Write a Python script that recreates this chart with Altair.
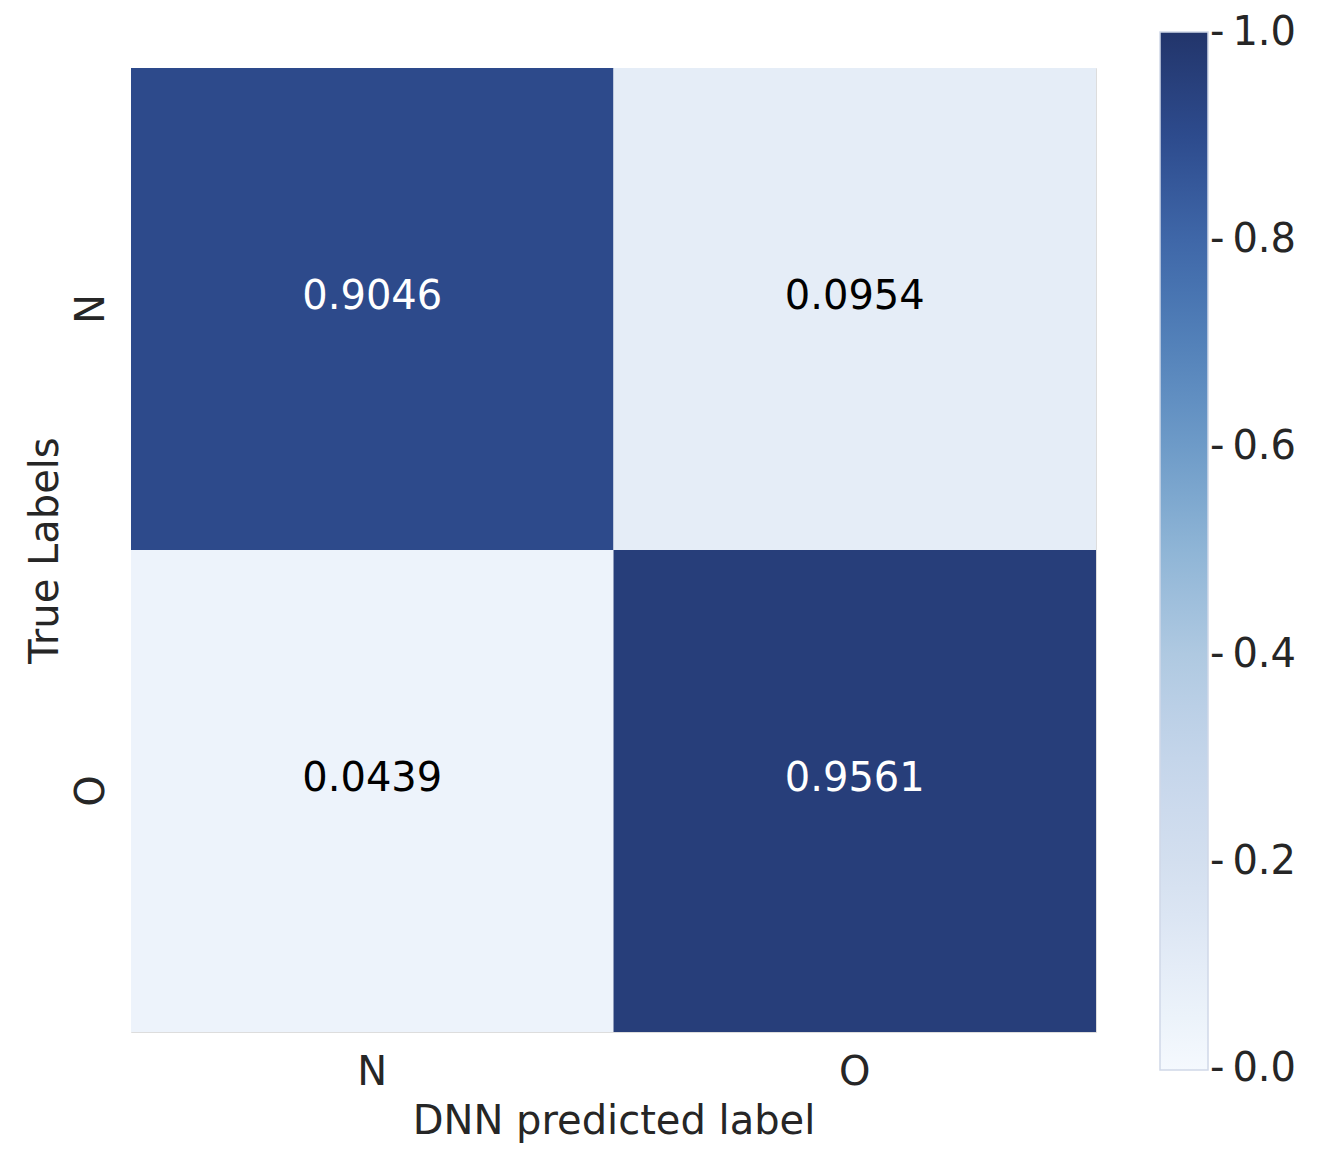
import altair as alt
import pandas as pd

true_labels = ["N", "N", "O", "O"]
pred_labels = ["N", "O", "N", "O"]
values = [0.9046, 0.0954, 0.0439, 0.9561]
order = ["N", "O"]

stops = [0.0, 0.1, 0.2, 0.3, 0.4, 0.5, 0.6, 0.7, 0.8, 0.9, 1.0]
colors = ["#f5f9fe", "#e4ecf7", "#d3dfef", "#c4d5ea", "#afc9e1", "#8fb5d6",
          "#6e9bc8", "#5381b9", "#3f67a8", "#2d4b8d", "#22356b"]
# end ticks nudged just inside the domain so their labels stay centred on the ends
legend_ticks = [0.0005, 0.2, 0.4, 0.6, 0.8, 0.9995]

df = pd.DataFrame({"true": true_labels, "pred": pred_labels, "value": values})
df["label"] = df["value"].map(lambda v: f"{v:.4f}")

FONT = "DejaVu Sans"
TXT = "#262626"

base = alt.Chart(df)

rect = base.mark_rect(stroke=None).encode(
    x=alt.X("pred:N", sort=order, title="DNN predicted label",
            axis=alt.Axis(labelAngle=0, ticks=False, domain=False, grid=False,
                          labelFontSize=40, titleFontSize=40, labelPadding=20,
                          titlePadding=9, labelColor=TXT, titleColor=TXT,
                          labelFont=FONT, titleFont=FONT, titleFontWeight="normal")),
    y=alt.Y("true:N", sort=order, title="True Labels",
            axis=alt.Axis(labelAngle=-90, ticks=False, domain=False, grid=False,
                          labelFontSize=40, titleFontSize=40, labelPadding=20,
                          titlePadding=6, labelColor=TXT, titleColor=TXT,
                          labelFont=FONT, titleFont=FONT, titleFontWeight="normal")),
    color=alt.Color("value:Q",
                    scale=alt.Scale(domain=stops, range=colors),
                    legend=alt.Legend(title=None, orient="none", legendX=1029, legendY=-36,
                                      direction="vertical", gradientLength=1038,
                                      gradientThickness=48, values=legend_ticks,
                                      labelExpr="'-\u2009' + format(datum.value, '.1f')",
                                      labelFontSize=40, labelFont=FONT, labelColor=TXT,
                                      labelOffset=2,
                                      gradientStrokeColor="#d0d8e8", gradientStrokeWidth=1.5,
                                      labelOverlap=False)),
)

text = base.mark_text(fontSize=40, font=FONT, dy=-12).encode(
    x=alt.X("pred:N", sort=order),
    y=alt.Y("true:N", sort=order),
    text="label:N",
    color=alt.condition(alt.datum.value > 0.5, alt.value("#ffffff"), alt.value("#000000")),
)

chart = (rect + text).properties(
    width=965, height=964,
    autosize=alt.AutoSizeParams(type="none"),
    padding={"left": 123, "top": 60, "right": 208, "bottom": 112},
).configure_view(stroke=None).configure(background="white")

chart.save("out.html", embed_options={"renderer": "svg", "actions": False})
